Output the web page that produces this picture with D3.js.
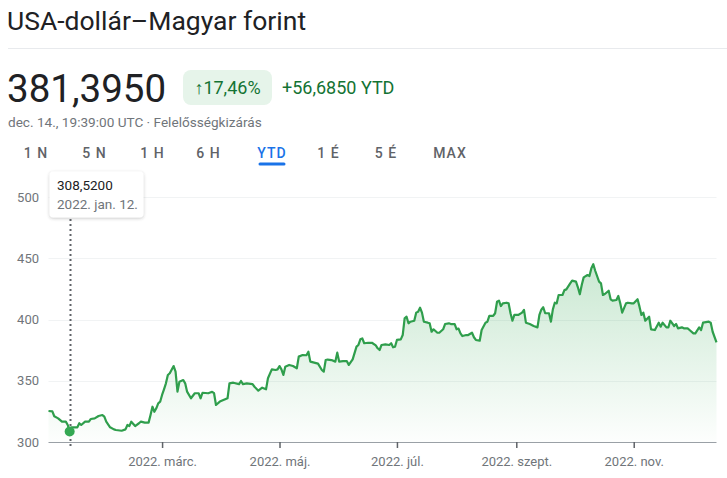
<!DOCTYPE html>
<html><head><meta charset="utf-8">
<script src="https://cdn.jsdelivr.net/npm/d3@7"></script>
<style>
html,body{margin:0;padding:0;background:#fff;}
svg{display:block;font-family:Roboto,Arial,sans-serif;}
</style></head>
<body>
<svg id="c" width="727" height="478"></svg>
<script>
// ---- data ----
const title = "USA-dollár–Magyar forint";
const priceText = "381,3950";
const changePct = "↑17,46%";
const changeAbs = "+56,6850 YTD";
const stamp = "dec. 14., 19:39:00 UTC · Felelősségkizárás";
const tabs = ["1 N","5 N","1 H","6 H","YTD","1 É","5 É","MAX"];
const activeTab = "YTD";
const baseDate = "2022-01-01";
const dayOffsets = [0,2,3,5,7,9,10,11,12,15,16,17,19,21,22,24,26,28,29,30,32,34,35,38,40,41,42,43,45,47,48,50,52,53,54,55,56,57,58,59,60,61,62,63,65,66,67,68,70,71,72,74,76,78,79,80,83,85,86,87,89,93,94,96,99,100,101,103,106,107,109,111,113,114,116,118,119,120,121,122,123,125,127,129,130,132,134,135,136,138,140,142,143,144,145,147,149,150,151,153,155,156,158,160,161,162,163,164,166,168,170,171,172,173,175,177,178,179,180,181,183,184,185,186,187,188,190,191,192,193,194,195,197,198,199,200,202,203,205,206,208,209,211,212,213,214,215,217,218,220,221,222,224,225,227,228,229,231,232,233,234,235,236,238,239,240,241,242,244,246,247,248,250,252,254,255,256,257,258,260,261,262,263,264,265,267,268,269,271,272,274,275,276,277,278,280,281,282,283,284,286,287,288,289,291,292,293,295,296,297,298,300,301,303,304,306,307,308,309,310,312,313,315,317,318,319,321,322,323,325,326,327,329,330,332,333,335,336,338,339,340,343,344,345,347];
const rates = [325.3,325,321,319.3,316.6,316.6,313.9,308.52,312,312,315.3,313.9,316.6,316.6,318.8,319.3,321.2,322,320.7,316.6,312,310.3,309.8,309.2,310.3,313.9,313,316.6,313,315.3,316.6,315.8,315.8,322,328.8,324.7,327.5,331.6,332.9,338.4,343,347.9,354.7,356.1,362,357.4,341.1,349.2,350.6,347.9,341.1,335.7,339.8,339.8,335.7,340.2,339.8,341,339.8,330.2,333,335.7,347.9,348.4,347.3,349.8,347.3,347.9,347.3,345.1,341.9,344.3,343,352,359.3,358.8,359.3,362,359.3,354.7,361.5,362.9,362,360.2,369.7,371,370.8,373.7,365.6,364.8,364,358.8,357.4,366.9,367.3,366.9,365.6,372.9,365.6,366,366,362.9,367.5,377.8,379.2,383.8,384.6,380.6,381,381,378.8,376.5,375.1,379.2,379.7,379.2,380.6,377.3,377.8,383.3,383.8,387.3,401,402.3,396.9,398.2,399,405.6,406.4,409.6,405.6,398.2,397.4,396.9,390,392,389.2,389.2,392,396.3,396.9,396.3,396.3,392,392.6,388.7,386.5,387.3,387.3,389.2,385.5,383.3,382.7,391.4,397.4,398.2,402.9,402.9,405.1,414.5,415.4,411,413.2,413.7,413.2,405.1,399,403.7,403.7,405.6,407.8,397.4,396.3,394.7,393.6,403.7,408,410,405.1,405.1,398.2,408.3,413.7,413.2,420,420,424,424.6,429.5,431.7,430.9,426.3,420.6,428.2,434.4,436.3,435.5,441.8,445.1,439.8,430.9,429.5,420,420.8,423.5,416.5,415.4,415.9,419.2,413.2,405.6,413.2,413.7,413.2,413.2,416.5,410.5,403.7,405.6,399,402.3,392,391.4,397.4,394.1,397.4,393.6,393.6,399,394.7,396.3,392.8,393.6,392.8,392.8,391.4,388.7,388.7,393.6,391.4,397.4,398.2,397.4,390,381.395];
const yTicks = [300,350,400,450,500];
const xTickDates = ["2022-03-01","2022-05-01","2022-07-01","2022-09-01","2022-11-01"];
const xTickLabels = ["2022. márc.","2022. máj.","2022. júl.","2022. szept.","2022. nov."];
const hoverIndex = 7;
const hoverValueText = "308,5200";
const hoverDateText = "2022. jan. 12.";

// ---- build ----
const parse = d3.utcParse("%Y-%m-%d");
const base = parse(baseDate);
const data = dayOffsets.map((d,i)=>({date:d3.utcDay.offset(base,d), v:rates[i]}));

const svg = d3.select("#c");
const W = 727;
const m = {left:48.5, right:10.5, top:197, bottom:442};

const x = d3.scaleUtc().domain(d3.extent(data,d=>d.date)).range([m.left, W-m.right]);
const y = d3.scaleLinear().domain([300,500]).range([m.bottom, m.top]);

// header
svg.append("text").attr("x",7).attr("y",30).attr("font-size",26.5).attr("fill","#202124").text(title);
svg.append("line").attr("x1",8).attr("x2",W).attr("y1",48.5).attr("y2",48.5).attr("stroke","#e8eaed");
svg.append("text").attr("x",7).attr("y",102).attr("font-size",38.5).attr("fill","#202124").text(priceText);
svg.append("rect").attr("x",183).attr("y",70).attr("width",89).attr("height",35).attr("rx",8).attr("fill","#e6f4ea");
svg.append("text").attr("x",227.5).attr("y",94).attr("text-anchor","middle").attr("font-size",18).attr("fill","#137333").text(changePct);
svg.append("text").attr("x",282).attr("y",94).attr("font-size",18).attr("fill","#137333").text(changeAbs);
svg.append("text").attr("x",8).attr("y",127).attr("font-size",13.6).attr("fill","#70757a").text(stamp);

const tabX = [36,94.5,152.5,208.5,272,328.5,386,450];
tabs.forEach((t,i)=>{
  const act = t===activeTab;
  svg.append("text").attr("x",tabX[i]).attr("y",158).attr("text-anchor","middle")
    .attr("font-size",14).attr("font-weight",500).attr("letter-spacing",1)
    .attr("fill",act?"#1a73e8":"#5f6368").text(t);
  if(act){
    svg.append("line").attr("x1",tabX[i]-12).attr("x2",tabX[i]+12).attr("y1",164).attr("y2",164)
      .attr("stroke","#1a73e8").attr("stroke-width",3).attr("stroke-linecap","round");
  }
});

// gridlines
svg.append("g").selectAll("line").data(yTicks.filter(t=>t>300)).join("line")
  .attr("x1",m.left).attr("x2",W-m.right).attr("y1",d=>Math.round(y(d))+0.5).attr("y2",d=>Math.round(y(d))+0.5)
  .attr("stroke","#f1f3f4");
// y labels
svg.append("g").selectAll("text").data(yTicks).join("text")
  .attr("x",39).attr("y",d=>y(d)+4.5).attr("text-anchor","end").attr("font-size",13).attr("fill","#70757a")
  .text(d=>d);

// area gradient
const defs = svg.append("defs");
const g = defs.append("linearGradient").attr("id","ag").attr("gradientUnits","userSpaceOnUse")
  .attr("x1",0).attr("x2",0).attr("y1",y(d3.max(rates))).attr("y2",y(300));
g.append("stop").attr("offset",0).attr("stop-color","#34a853").attr("stop-opacity",0.26);
g.append("stop").attr("offset",1).attr("stop-color","#34a853").attr("stop-opacity",0.01);

svg.append("path").datum(data)
  .attr("d",d3.area().x(d=>x(d.date)).y0(y(300)).y1(d=>y(d.v)))
  .attr("fill","url(#ag)");

// x axis
const xa = d3.axisBottom(x).tickValues(xTickDates.map(parse)).tickFormat((d,i)=>xTickLabels[i]).tickSize(6).tickPadding(9);
const ax = svg.append("g").attr("transform",`translate(0,${y(300)})`).call(xa);
ax.select(".domain").attr("stroke","#9aa0a6").attr("d",`M${m.left},0.5H${W-m.right}`);
ax.selectAll(".tick line").attr("stroke","#5f6368").attr("stroke-width",1.5);
ax.selectAll(".tick text").attr("fill","#70757a").attr("font-size",13).attr("font-family","Roboto,Arial,sans-serif");

// line
svg.append("path").datum(data)
  .attr("d",d3.line().x(d=>x(d.date)).y(d=>y(d.v)))
  .attr("fill","none").attr("stroke","#2f9e4c").attr("stroke-width",2.2).attr("stroke-linejoin","round");

// hover
const hp = data[hoverIndex];
const hx = Math.round(x(hp.date))+0.5;
svg.append("line").attr("x1",hx).attr("x2",hx).attr("y1",219).attr("y2",y(300)+6)
  .attr("stroke","#5f6368").attr("stroke-width",2).attr("stroke-dasharray","2,3");
svg.append("circle").attr("cx",x(hp.date)).attr("cy",y(hp.v)).attr("r",5).attr("fill","#34a853");

const filt = defs.append("filter").attr("id","sh").attr("x","-20%").attr("y","-20%").attr("width","140%").attr("height","160%");
filt.append("feDropShadow").attr("dx",0).attr("dy",1).attr("stdDeviation",1.5).attr("flood-color","#3c4043").attr("flood-opacity",0.3);
svg.append("rect").attr("x",49.5).attr("y",171.5).attr("width",94).attr("height",46).attr("rx",4)
  .attr("fill","#fff").attr("filter","url(#sh)");
svg.append("text").attr("x",57).attr("y",190).attr("font-size",13.5).attr("fill","#202124").text(hoverValueText);
svg.append("text").attr("x",57).attr("y",209).attr("font-size",13.5).attr("fill","#70757a").text(hoverDateText);
</script>
</body></html>
